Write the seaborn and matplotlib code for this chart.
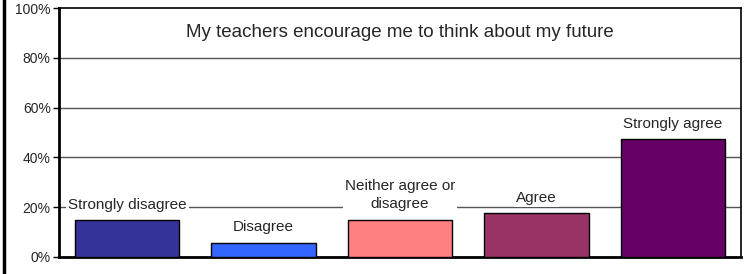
import pandas as pd
import seaborn as sns
import matplotlib.pyplot as plt
from matplotlib.lines import Line2D

categories = ["Strongly disagree", "Disagree", "Neither agree or\ndisagree", "Agree", "Strongly agree"]
values = [14.7, 5.7, 15.0, 17.5, 47.2]
colors = ["#333399", "#3366FF", "#FF8080", "#993366", "#660066"]
title = "My teachers encourage me to think about my future"

df = pd.DataFrame({"cat": categories, "val": values})

sns.set_style("white")
plt.rcParams["font.family"] = ["Liberation Sans", "DejaVu Sans"]

fig = plt.figure(figsize=(7.47, 2.74), dpi=100)
ax = fig.add_axes([59/747, 17/274, 682/747, 249/274])

sns.barplot(data=df, x="cat", y="val", hue="cat", palette=colors, legend=False,
            width=0.765, edgecolor="black", linewidth=1, saturation=1, ax=ax, zorder=3)

ax.set_ylim(0, 100)
ax.set_xlim(-0.5, len(categories) - 0.5)
ax.set_yticks([0, 20, 40, 60, 80, 100])
ax.set_yticklabels([f"{t}%" for t in [0, 20, 40, 60, 80, 100]], fontsize=10)
ax.set_xticks([])
ax.set_xlabel("")
ax.set_ylabel("")
ax.tick_params(axis="y", length=4, width=1, color="black", direction="out", pad=2, left=True)
for y in [20, 40, 60, 80]:
    ax.axhline(y, color="#555555", linewidth=1, zorder=1)
for s in ax.spines.values():
    s.set_visible(True)
    s.set_color("black")
    s.set_linewidth(1.2)
ax.spines["left"].set_linewidth(2)
ax.spines["bottom"].set_linewidth(2)

for i, (c, v) in enumerate(zip(categories, values)):
    ax.annotate(c, (i, v), xytext=(0, 6), textcoords="offset points",
                ha="center", va="bottom", fontsize=11, linespacing=1.35, zorder=4,
                bbox=dict(facecolor="white", edgecolor="none", pad=1.5))

ax.text(0.5, 0.9, title, transform=ax.transAxes, ha="center", va="center",
        fontsize=13.5, zorder=5)

fig.add_artist(Line2D([4/747, 4/747], [0, 1], transform=fig.transFigure,
                      color="black", linewidth=2.5))

fig.savefig("out.png", dpi=100)
